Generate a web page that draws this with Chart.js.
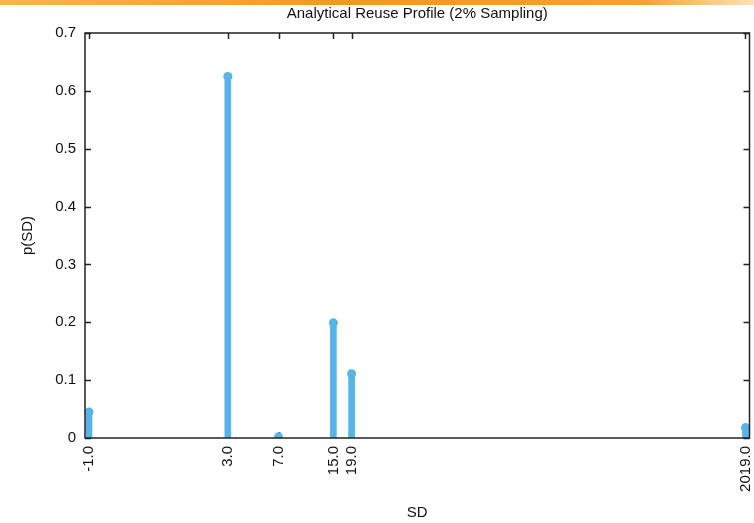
<!DOCTYPE html>
<html>
<head>
<meta charset="utf-8">
<script src="https://cdn.jsdelivr.net/npm/chart.js@4.4.1/dist/chart.umd.min.js"></script>
<style>
  html, body { margin: 0; padding: 0; background: #fff; }
  #wrap { position: relative; width: 754px; height: 523px; }
  #band {
    position: absolute; left: 0; top: 0; width: 754px; height: 5px;
    background: linear-gradient(to right, #f6b64e, #ef9a22 45%, #f0a232 85%, #fde2b6);
  }
  canvas { position: absolute; left: 0; top: 0; }
</style>
</head>
<body>
<div id="wrap">
  <canvas id="chart" width="754" height="523"></canvas>
  <div id="band"></div>
</div>
<script>
// reuse distances and their probabilities
const sdValues = [-1, 3, 7, 15, 19, 2019];
const probs = [0.045, 0.625, 0.002, 0.199, 0.111, 0.018];
const yTicks = [0, 0.1, 0.2, 0.3, 0.4, 0.5, 0.6, 0.7];

const blue = '#56b4e9';
const font = 'Liberation Sans, Arial, Helvetica, sans-serif';

// x axis is log2(SD + 2), like the original plot
const toX = sd => Math.log2(sd + 2);
const points = sdValues.map((sd, i) => ({ x: toX(sd), y: probs[i] }));

// inward ticks under the data, box on top (gnuplot style)
const framePlugin = {
  id: 'frame',
  beforeDatasetsDraw(chart) {
    const { ctx, chartArea: a, scales } = chart;
    const len = 6;
    ctx.save();
    ctx.strokeStyle = '#222';
    ctx.lineWidth = 1.5;
    ctx.beginPath();
    scales.x.ticks.forEach((t, i) => {
      const px = Math.round(scales.x.getPixelForTick(i)) + 0.5;
      ctx.moveTo(px, a.bottom); ctx.lineTo(px, a.bottom - len);
      ctx.moveTo(px, a.top); ctx.lineTo(px, a.top + len);
    });
    scales.y.ticks.forEach((t, i) => {
      const py = Math.round(scales.y.getPixelForTick(i)) + 0.5;
      ctx.moveTo(a.left, py); ctx.lineTo(a.left + len, py);
      ctx.moveTo(a.right, py); ctx.lineTo(a.right - len, py);
    });
    ctx.stroke();
    ctx.restore();
  },
  afterDatasetsDraw(chart) {
    const { ctx, chartArea: a } = chart;
    ctx.save();
    ctx.strokeStyle = '#222';
    ctx.lineWidth = 1.5;
    ctx.strokeRect(a.left, a.top, a.right - a.left, a.bottom - a.top);
    ctx.restore();
  }
};

new Chart(document.getElementById('chart'), {
  type: 'bar',
  data: {
    datasets: [
      {
        type: 'scatter',
        data: points,
        backgroundColor: blue,
        borderColor: blue,
        pointRadius: 4.5,
        pointBorderWidth: 0
      },
      {
        type: 'bar',
        data: points,
        backgroundColor: blue,
        barThickness: 6
      }
    ]
  },
  options: {
    responsive: false,
    animation: false,
    layout: { padding: { left: 0, right: 4, top: 0, bottom: 0 } },
    plugins: {
      legend: { display: false },
      tooltip: { enabled: false },
      title: {
        display: true,
        fullSize: false,
        text: 'Analytical Reuse Profile (2% Sampling)',
        color: '#111',
        font: { family: font, size: 15, weight: 'normal' },
        padding: { top: 5, bottom: 10 }
      }
    },
    scales: {
      x: {
        type: 'linear',
        offset: false,
        min: -0.067,
        max: toX(2019) + 0.067,
        grid: { display: false, drawTicks: false, offset: false },
        border: { display: false },
        afterBuildTicks: scale => {
          scale.ticks = sdValues.map(sd => ({ value: toX(sd) }));
        },
        afterFit: scale => {
          scale.height = 85;
          scale.paddingLeft = 0;
          scale.paddingRight = 0;
        },
        ticks: {
          autoSkip: false,
          minRotation: 90,
          maxRotation: 90,
          padding: 8,
          color: '#111',
          font: { family: font, size: 15 },
          callback: (v, i) => sdValues[i].toFixed(1)
        },
        title: {
          display: true,
          text: 'SD',
          color: '#111',
          font: { family: font, size: 15 },
          padding: { top: 0, bottom: 1 }
        }
      },
      y: {
        min: 0,
        max: 0.7,
        grid: { display: false, drawTicks: false },
        border: { display: false },
        afterBuildTicks: scale => {
          scale.ticks = yTicks.map(v => ({ value: v }));
        },
        afterFit: scale => { scale.width = 85; },
        ticks: {
          padding: 9,
          color: '#111',
          font: { family: font, size: 15 },
          callback: v => (v === 0 ? '0' : v.toFixed(1))
        },
        title: {
          display: true,
          text: 'p(SD)',
          color: '#111',
          font: { family: font, size: 15 },
          padding: { top: 19, bottom: 0 }
        }
      }
    }
  },
  plugins: [framePlugin]
});
</script>
</body>
</html>
